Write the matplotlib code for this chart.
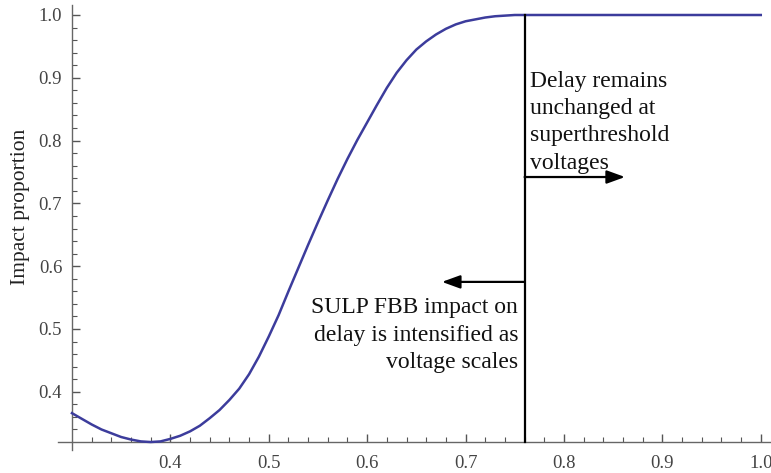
import numpy as np
import matplotlib
matplotlib.use("Agg")
import matplotlib.pyplot as plt
from matplotlib.ticker import FixedLocator

# supply voltage (V) and share of the FBB impact on delay
volt = [0.30, 0.31, 0.32, 0.33, 0.34, 0.35, 0.36, 0.37, 0.38, 0.39,
        0.40, 0.41, 0.42, 0.43, 0.44, 0.45, 0.46, 0.47, 0.48, 0.49,
        0.50, 0.51, 0.52, 0.53, 0.54, 0.55, 0.56, 0.57, 0.58, 0.59,
        0.60, 0.61, 0.62, 0.63, 0.64, 0.65, 0.66, 0.67, 0.68, 0.69,
        0.70, 0.71, 0.72, 0.73, 0.74, 0.75, 0.76, 0.80, 0.90, 1.00]
impact = [0.366, 0.357, 0.348, 0.340, 0.334, 0.328, 0.324, 0.321, 0.320, 0.321,
          0.325, 0.330, 0.337, 0.346, 0.358, 0.371, 0.387, 0.405, 0.428, 0.456,
          0.488, 0.522, 0.560, 0.597, 0.634, 0.670, 0.705, 0.739, 0.771, 0.801,
          0.829, 0.857, 0.884, 0.908, 0.928, 0.945, 0.958, 0.969, 0.978, 0.985,
          0.990, 0.993, 0.996, 0.998, 0.999, 1.000, 1.000, 1.000, 1.000, 1.000]

v_split = 0.76          # boundary between the two regimes
arrow_right_y = 0.742
arrow_left_y = 0.575
x_major = [0.4, 0.5, 0.6, 0.7, 0.8, 0.9, 1.0]
y_major = [0.4, 0.5, 0.6, 0.7, 0.8, 0.9, 1.0]

plt.rcParams['font.family'] = ['Liberation Serif', 'DejaVu Serif']

fig = plt.figure(figsize=(7.71, 4.73), dpi=100)
ax = fig.add_axes([0.0752, 0.0486, 0.9248, 0.9408])

ax.plot(volt, impact, color='#3c3c9c', lw=1.8, clip_on=False, zorder=3)
ax.plot([v_split, v_split], [0.32, 1.0], color='black', lw=1.6, zorder=4)

ax.set_xlim(0.2858, 1.0104)
ax.set_ylim(0.3073, 1.0159)

# axes crossing at (0.3, 0.32)
for s in ['top', 'right']:
    ax.spines[s].set_visible(False)
ax.spines['left'].set_position(('data', 0.3))
ax.spines['bottom'].set_position(('data', 0.32))
for s in ['left', 'bottom']:
    ax.spines[s].set_color('#666666')
    ax.spines[s].set_linewidth(1.0)

ax.xaxis.set_major_locator(FixedLocator(x_major))
ax.yaxis.set_major_locator(FixedLocator(y_major))
ax.xaxis.set_minor_locator(FixedLocator(np.arange(0.32, 1.001, 0.02)))
ax.yaxis.set_minor_locator(FixedLocator(np.arange(0.34, 1.001, 0.02)))
ax.set_xticklabels(['%.1f' % v for v in x_major])
ax.set_yticklabels(['%.1f' % v for v in y_major])
ax.tick_params(which='both', direction='in', colors='#555555', labelcolor='#444444',
               labelsize=13.5)
ax.tick_params(which='major', length=6, width=1.0)
ax.tick_params(which='minor', length=3.5, width=0.8)
ax.tick_params(axis='x', pad=9)
ax.tick_params(axis='y', pad=7)

ax.set_ylabel('Impact proportion', fontsize=15.5, color='#222222')
ax.yaxis.set_label_coords(-0.039, 0.546)

arrow_kw = dict(arrowstyle='-|>,head_length=0.55,head_width=0.2', color='black',
                lw=1.6, shrinkA=0, shrinkB=0, mutation_scale=20)
ax.annotate('', xy=(0.862, arrow_right_y), xytext=(v_split, arrow_right_y),
            arrowprops=arrow_kw)
ax.annotate('', xy=(0.676, arrow_left_y), xytext=(v_split, arrow_left_y),
            arrowprops=arrow_kw)

# va='baseline' pins the last line of each block
ax.text(0.7655, 0.755, 'Delay remains\nunchanged at\nsuperthreshold\nvoltages',
        ha='left', va='baseline', fontsize=17, linespacing=1.4, color='#111111')
ax.text(0.7533, 0.438, 'SULP FBB impact on\ndelay is intensified as\nvoltage scales',
        ha='right', va='baseline', multialignment='right', fontsize=17,
        linespacing=1.4, color='#111111')

fig.savefig('out.png', dpi=100)
